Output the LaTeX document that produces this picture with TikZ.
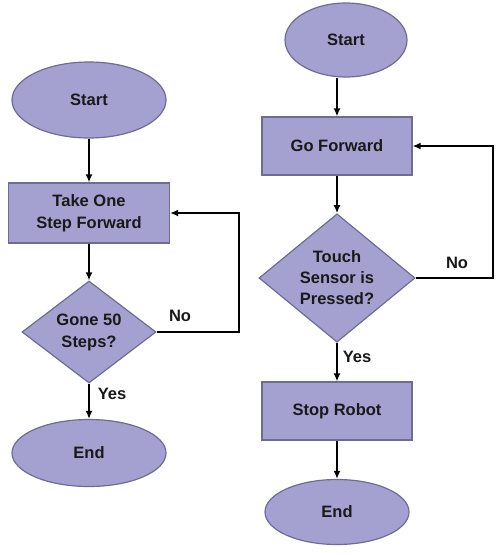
\documentclass[tikz,border=0pt]{standalone}
\usepackage{fontspec}
\setmainfont{Liberation Sans}
\usetikzlibrary{shapes.geometric, arrows.meta}
\definecolor{boxfill}{HTML}{A4A1D1}
\definecolor{boxline}{HTML}{6E6B96}

\tikzset{
  shp/.style={draw=boxline, fill=boxfill, line width=1.2pt, inner sep=0pt,
    align=center, font=\fontsize{16.5}{22}\selectfont\bfseries, text=black!90},
  term/.style={shp, ellipse},
  proc/.style={shp, rectangle},
  dec/.style={shp, diamond},
  lbl/.style={font=\fontsize{16.5}{22}\selectfont\bfseries, text=black!90},
  flow/.style={line width=1.8pt, -{Latex[length=8pt,width=7pt]}}
}

\begin{document}
\begin{tikzpicture}[x=1pt, y=-1pt]
\useasboundingbox (0,0) rectangle (501,555);
% left chart
\node[term, minimum width=154, minimum height=76] (start1) at (89,100) {Start};
\node[proc, minimum width=161, minimum height=60] (step1) at (89,213) {Take One\\Step Forward};
\node[dec, minimum width=134, minimum height=90] (gone) at (89,332) {Gone 50\\Steps?};
\node[term, minimum width=154, minimum height=67] (end1) at (89,453) {End};
\node[lbl] (no1) at (180,316) {No};
\node[lbl] (yes1) at (112,394) {Yes};
\draw[flow] (start1) -- (step1);
\draw[flow] (step1) -- (gone);
\draw[flow] (gone) -- (end1);
\draw[flow] (gone.east) -- ++(82,0) |- (step1.east);
% right chart
\node[term, minimum width=122, minimum height=74] (start2) at (346,40) {Start};
\node[proc, minimum width=150, minimum height=58] (fwd) at (337,146) {Go Forward};
\node[dec, minimum width=156, minimum height=120, font=\fontsize{16.5}{21}\selectfont\bfseries] (touch) at (337,278) {Touch\\Sensor is\\Pressed?};
\node[proc, minimum width=150, minimum height=58] (stop) at (337,411) {Stop Robot};
\node[term, minimum width=144, minimum height=65] (end2) at (337,512) {End};
\node[lbl] (no2) at (457,263) {No};
\node[lbl] (yes2) at (357,357) {Yes};
\draw[flow] (fwd.north |- start2.south) -- (fwd.north);
\draw[flow] (fwd) -- (touch);
\draw[flow] (touch) -- (stop);
\draw[flow] (stop) -- (end2);
\draw[flow] (touch.east) -- ++(77,0) |- (fwd.east);
\end{tikzpicture}
\end{document}
